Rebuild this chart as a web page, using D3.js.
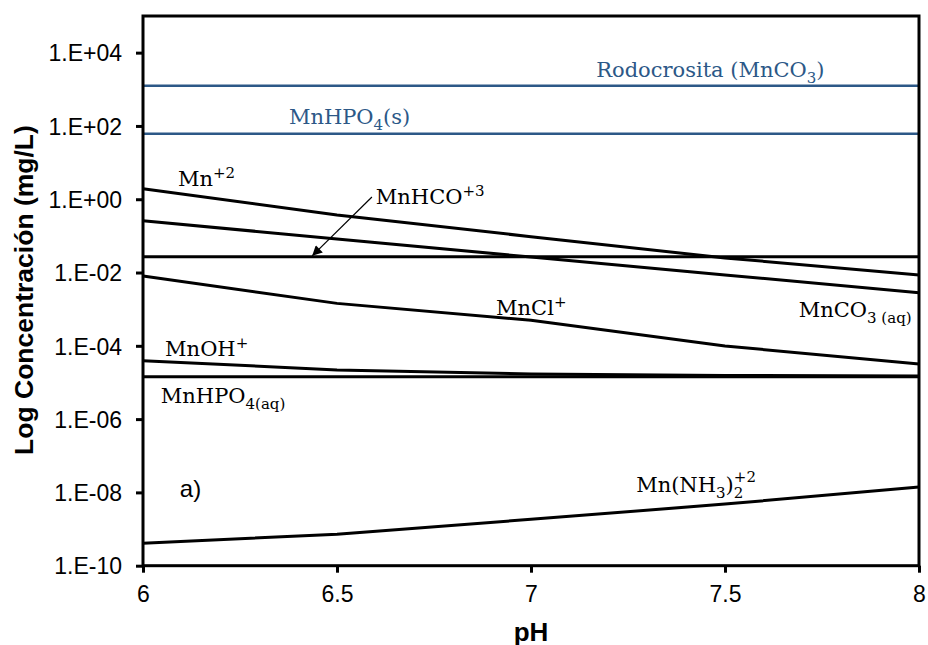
<!DOCTYPE html>
<html>
<head>
<meta charset="utf-8">
<style>
  body { margin: 0; background: #fff; }
  .tick text { font-family: "Liberation Sans", Arial, sans-serif; font-size: 23px; fill: #000; }
  .chem { font-family: "DejaVu Serif", serif; font-size: 21px; }
</style>
</head>
<body>
<script src="https://d3js.org/d3.v7.min.js"></script>
<script>
// pH values (x)
var pH = [6, 6.5, 7, 7.5, 8];

// concentrations, mg/L
var mn2      = [1.94, 0.37, 0.095, 0.025, 0.0086];
var mnco3aq  = [0.26, 0.082, 0.0265, 0.0086, 0.0028];
var mnhco3   = [0.0268, 0.0268, 0.0268, 0.0268, 0.0268];
var mncl     = [0.0080, 0.00144, 0.0005, 0.000099, 0.000032];
var mnoh     = [0.000039, 0.000022, 0.000017, 0.0000155, 0.000015];
var mnhpo4aq = [0.0000143, 0.0000143, 0.0000143, 0.0000143, 0.0000143];
var mnnh3    = [4.1e-10, 7.2e-10, 1.84e-9, 4.8e-9, 1.4e-8];
var rodocrosita = [1250, 1250, 1250, 1250, 1250];
var mnhpo4s  = [61, 61, 61, 61, 61];

var yTicks = [1e4, 1e2, 1e0, 1e-2, 1e-4, 1e-6, 1e-8, 1e-10];
var yTickLabels = ["1.E+04", "1.E+02", "1.E+00", "1.E-02", "1.E-04", "1.E-06", "1.E-08", "1.E-10"];
var xTicks = [6, 6.5, 7, 7.5, 8];
var xTickLabels = ["6", "6.5", "7", "7.5", "8"];

var width = 928, height = 645;
var mLeft = 143, mRight = 919, mTop = 16, mBottom = 565.7;

var svg = d3.select("body").append("svg")
    .attr("width", width)
    .attr("height", height);

var x = d3.scaleLinear().domain([6, 8]).range([mLeft, mRight]);
var y = d3.scaleLog().domain([1e-10, 1e5]).range([mBottom, mTop]);

// lines
var series = [
    { v: rodocrosita, color: "#2c5887", w: 2.6 },
    { v: mnhpo4s, color: "#2c5887", w: 2.6 },
    { v: mn2, color: "#000", w: 3 },
    { v: mnco3aq, color: "#000", w: 3 },
    { v: mnhco3, color: "#000", w: 3 },
    { v: mncl, color: "#000", w: 3 },
    { v: mnoh, color: "#000", w: 3 },
    { v: mnhpo4aq, color: "#000", w: 3 },
    { v: mnnh3, color: "#000", w: 3 }
];

var line = d3.line()
    .x(function (d, i) { return x(pH[i]); })
    .y(function (d) { return y(d); });

svg.append("g").selectAll("path")
    .data(series)
    .enter().append("path")
    .attr("d", function (s) { return line(s.v); })
    .attr("fill", "none")
    .attr("stroke", function (s) { return s.color; })
    .attr("stroke-width", function (s) { return s.w; });

// axes
var yAxis = d3.axisLeft(y).tickValues(yTicks)
    .tickFormat(function (d, i) { return yTickLabels[i]; })
    .tickSize(7).tickPadding(14);
var gy = svg.append("g").attr("transform", "translate(" + mLeft + ",0)").call(yAxis);

var xAxis = d3.axisBottom(x).tickValues(xTicks)
    .tickFormat(function (d, i) { return xTickLabels[i]; })
    .tickSize(7).tickPadding(13);
var gx = svg.append("g").attr("transform", "translate(0," + mBottom + ")").call(xAxis);

[gx, gy].forEach(function (g) {
    g.select(".domain").remove();
    g.selectAll(".tick line").attr("stroke", "#000").attr("stroke-width", 3);
});
gy.selectAll(".tick text").attr("dy", "0.36em");
gx.selectAll(".tick text").attr("dy", "0.72em");

// frame
svg.append("rect")
    .attr("x", mLeft).attr("y", mTop)
    .attr("width", mRight - mLeft).attr("height", mBottom - mTop)
    .attr("fill", "none").attr("stroke", "#000").attr("stroke-width", 3);

// axis titles
svg.append("text")
    .attr("transform", "translate(33,290) rotate(-90)")
    .attr("text-anchor", "middle")
    .style("font-family", "'Liberation Sans', Arial, sans-serif")
    .style("font-weight", "bold")
    .style("font-size", "26.5px")
    .text("Log Concentración (mg/L)");

svg.append("text")
    .attr("x", (mLeft + mRight) / 2).attr("y", 641)
    .attr("text-anchor", "middle")
    .style("font-family", "'Liberation Sans', Arial, sans-serif")
    .style("font-weight", "bold")
    .style("font-size", "26px")
    .text("pH");

// chemistry labels: parts = [text, shift] with shift "sub"/"super"/null
var labels = [
    { px: 7.168, lg: 3.34, color: "#2c5887", parts: [["Rodocrosita (MnCO", null], ["3", "sub"], [")", null]] },
    { px: 6.376, lg: 2.06, color: "#2c5887", parts: [["MnHPO", null], ["4", "sub"], ["(s)", null]] },
    { px: 6.09, lg: 0.36, color: "#000", parts: [["Mn", null], ["+2", "super"]] },
    { px: 6.60, lg: -0.13, color: "#000", parts: [["MnHCO", null], ["+3", "super"]] },
    { px: 6.91, lg: -3.15, color: "#000", parts: [["MnCl", null], ["+", "super"]] },
    { px: 7.69, lg: -3.2, color: "#000", parts: [["MnCO", null], ["3 (aq)", "sub"]] },
    { px: 6.057, lg: -4.28, color: "#000", parts: [["MnOH", null], ["+", "super"]] },
    { px: 6.046, lg: -5.56, color: "#000", parts: [["MnHPO", null], ["4(aq)", "sub"]] },
    { px: 7.271, lg: -7.99, color: "#000", parts: [["Mn(NH", null], ["3", "sub"], [")", null], ["2", "sub"]] }
];

labels.forEach(function (l) {
    var t = svg.append("text")
        .attr("class", "chem")
        .attr("x", x(l.px))
        .attr("y", y(Math.pow(10, l.lg)))
        .attr("fill", l.color);
    var prevShift = 0;
    l.parts.forEach(function (p) {
        var shift = 0, size = null;
        if (p[1] === "sub") { shift = 6; size = "15px"; }
        if (p[1] === "super") { shift = -8; size = "15px"; }
        var ts = t.append("tspan").text(p[0]).attr("dy", shift - prevShift);
        if (size) ts.style("font-size", size);
        prevShift = shift;
    });
    l.node = t;
});

// +2 charge stacked above the subscript 2 of Mn(NH3)2
var nh3 = labels[8].node;
var bb = nh3.node().getBBox();
svg.append("text")
    .attr("class", "chem")
    .attr("x", bb.x + bb.width - 9.5)
    .attr("y", y(Math.pow(10, -7.99)) - 10)
    .style("font-size", "15px")
    .text("+2");

// "a)" label
svg.append("text")
    .attr("x", x(6.095)).attr("y", y(Math.pow(10, -8.13)))
    .style("font-family", "'Liberation Sans', Arial, sans-serif")
    .style("font-size", "24px")
    .text("a)");

// arrow to MnHCO3 line
svg.append("defs").append("marker")
    .attr("id", "arrow")
    .attr("viewBox", "0 0 10 10")
    .attr("refX", 10).attr("refY", 5)
    .attr("markerWidth", 14).attr("markerHeight", 10)
    .attr("markerUnits", "userSpaceOnUse")
    .attr("orient", "auto")
    .append("path").attr("d", "M0,0 L10,5 L0,10 z").attr("fill", "#000");

svg.append("line")
    .attr("x1", x(6.59)).attr("y1", y(Math.pow(10, 0.06)))
    .attr("x2", x(6.436)).attr("y2", y(mnhco3[0]) - 1)
    .attr("stroke", "#000").attr("stroke-width", 1.2)
    .attr("marker-end", "url(#arrow)");
</script>
</body>
</html>
